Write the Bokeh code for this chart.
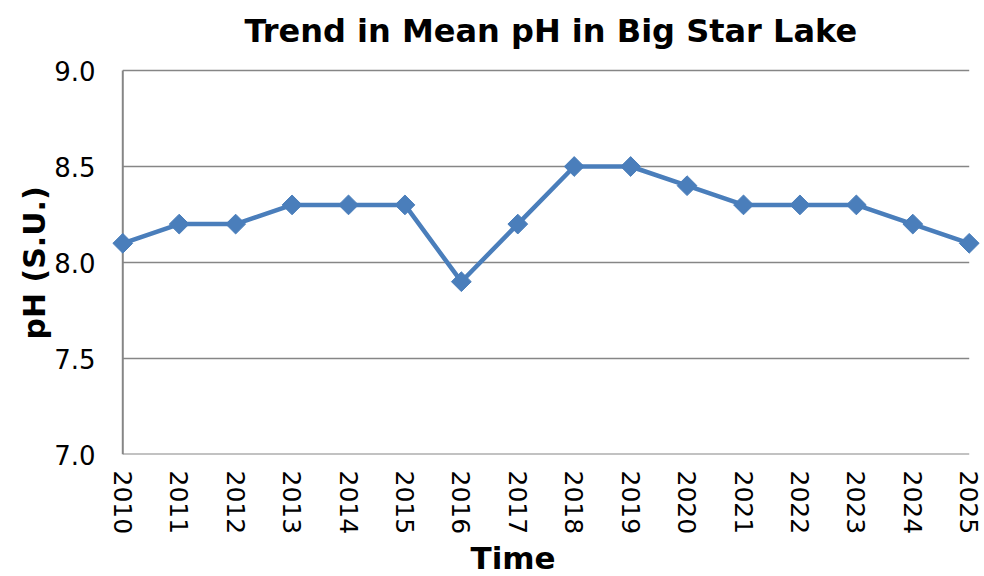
import math
from bokeh.plotting import figure
from bokeh.models import Range1d, FixedTicker, ColumnDataSource, PrintfTickFormatter, Label, Title
from bokeh.embed import file_html
from bokeh.resources import INLINE

years = [2010, 2011, 2012, 2013, 2014, 2015, 2016, 2017, 2018, 2019, 2020, 2021, 2022, 2023, 2024, 2025]
ph = [8.1, 8.2, 8.2, 8.3, 8.3, 8.3, 7.9, 8.2, 8.5, 8.5, 8.4, 8.3, 8.3, 8.3, 8.2, 8.1]
y_ticks = [7.0, 7.5, 8.0, 8.5, 9.0]

FONT = "DejaVu Sans"
GRAY = "#868686"
BLUE = "#4A7EBB"
src = ColumnDataSource(dict(x=years, y=ph))

x0, x1 = years[0], years[-1]
y0, y1 = y_ticks[0], y_ticks[-1]
PX_PER_UNIT = 192.0          # 384 px plot height for 2 pH units
TOP_SPACE = 70 / PX_PER_UNIT  # room above 9.0 for the chart title

p = figure(width=984, height=576, output_backend="svg", toolbar_location=None, title=None,
           x_range=Range1d(x0 - 0.2, x1 + 0.2), y_range=Range1d(y0, y1 + TOP_SPACE),
           min_border_left=111, min_border_right=4, min_border_top=0, min_border_bottom=122)
p.outline_line_color = None
p.xgrid.grid_line_color = None
p.ygrid.grid_line_color = None

# gridlines and axis lines spanning the data extent
p.segment(x0=[x0] * len(y_ticks[1:]), x1=[x1] * len(y_ticks[1:]), y0=y_ticks[1:], y1=y_ticks[1:],
          line_color=GRAY, line_width=1.5)
p.segment(x0=[x0], x1=[x0], y0=[y0], y1=[y1], line_color=GRAY, line_width=2)
p.segment(x0=[x0], x1=[x1], y0=[y0], y1=[y0], line_color=GRAY, line_width=2)

p.line("x", "y", source=src, line_color=BLUE, line_width=4.5)
p.scatter("x", "y", source=src, marker="square", angle=math.pi / 4, size=14,
          fill_color=BLUE, line_color=BLUE)

# chart title
p.add_layout(Label(x=2017.585, y=y1 + 40 / PX_PER_UNIT, text="Trend in Mean pH in Big Star Lake",
                   text_align="center", text_baseline="alphabetic", text_font=FONT,
                   text_font_size="32px", text_font_style="bold", text_color="black"))

p.xaxis.ticker = FixedTicker(ticks=years)
p.xaxis.major_label_orientation = -math.pi / 2
p.yaxis.ticker = FixedTicker(ticks=y_ticks)
p.yaxis.formatter = PrintfTickFormatter(format="%.1f")

for ax in (p.xaxis[0], p.yaxis[0]):
    ax.axis_line_color = None
    ax.major_tick_line_color = None
    ax.minor_tick_line_color = None
    ax.major_label_text_font = FONT
    ax.major_label_text_color = "black"

p.xaxis.major_label_text_font_size = "25px"
p.yaxis.major_label_text_font_size = "26px"
p.yaxis.major_label_standoff = 10
p.xaxis.major_label_standoff = 10

# y-axis title, centred on the 7.0-9.0 span
p.add_layout(Title(text="pH (S.U.)", align="left", offset=115, standoff=0, text_font=FONT,
                   text_font_size="30px", text_font_style="bold", text_color="black"), "left")

# x-axis title below the tick labels
p.add_layout(Title(text="Time", align="left", offset=359, standoff=0, text_font=FONT,
                   text_font_size="31px", text_font_style="bold", text_color="black"), "below")

open("out.html", "w").write(file_html(p, INLINE))
